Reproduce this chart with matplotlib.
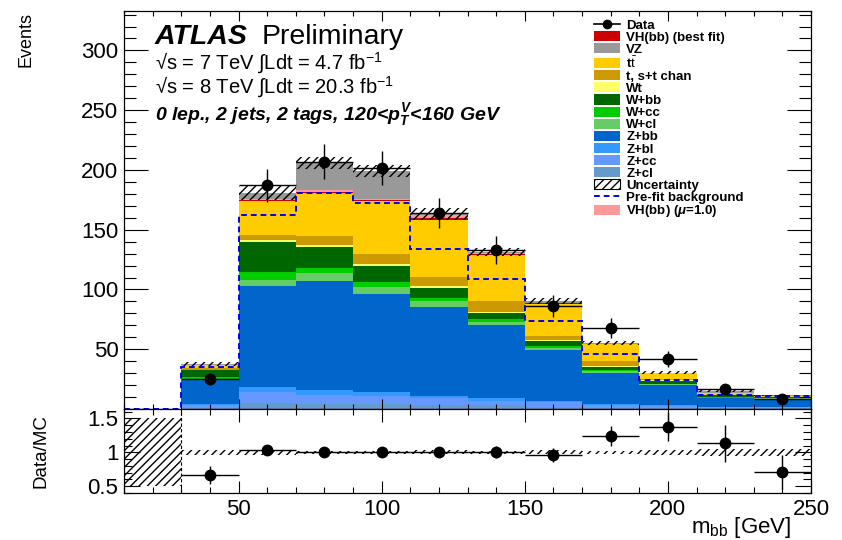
import numpy as np
import matplotlib
matplotlib.use("Agg")
import matplotlib.pyplot as plt
from matplotlib.patches import Patch
from matplotlib.lines import Line2D
from matplotlib.ticker import MultipleLocator, FixedLocator, FuncFormatter

plt.rcParams['font.family'] = ['Liberation Sans', 'DejaVu Sans']
plt.rcParams['mathtext.fontset'] = 'custom'
plt.rcParams['mathtext.rm'] = 'Liberation Sans'
plt.rcParams['mathtext.it'] = 'Liberation Sans:italic:bold'
plt.rcParams['mathtext.bf'] = 'Liberation Sans:bold'
plt.rcParams['hatch.linewidth'] = 1.0
plt.rcParams['hatch.color'] = 'black'

# ---------------- data (bins of m_bb, 20 GeV wide, first bin 10-30 empty) ----
edges = np.arange(10, 251, 20)
z_cl    = [0, 1.0, 5, 4, 4, 3, 3, 2.0, 1, 1.0, 0.5, 0.5]
z_cc    = [0, 2.0, 9, 8, 7, 6, 4, 3.5, 2, 1.5, 1.0, 1.0]
z_bl    = [0, 1.0, 4, 4, 3, 2, 2, 1.5, 1, 0.5, 0.5, 0.5]
z_bb    = [0, 20, 85, 91, 82, 74, 61, 42.5, 26.5, 17, 7, 6.5]
w_cl    = [0, 1.5, 5, 7, 6, 5, 3, 1.5, 1, 0.5, 0.5, 0.3]
w_cc    = [0, 1.0, 7, 4, 4, 2.5, 2, 1.5, 1, 0.5, 0.3, 0.2]
w_bb    = [0, 6, 25, 17.5, 13.5, 8.5, 5, 4, 3, 2.5, 1.5, 0.8]
wt      = [0, 0.5, 1, 2, 2, 1.5, 1.5, 1, 0.5, 0.5, 0.2, 0.2]
t_st    = [0, 1.5, 5, 7, 8, 8, 8.5, 3.5, 4, 1.5, 0.5, 0.3]
ttbar   = [0, 2.5, 28, 36.5, 44.5, 47.5, 38.5, 27, 14, 4.5, 1.5, 0.8]
vh_best = [0, 0, 0.5, 0.5, 0.5, 1.5, 1, 0.5, 0.2, 0, 0, 0]
vh_mu1  = [0, 0, 1, 1.5, 1, 2.5, 1, 0.5, 0.3, 0, 0, 0]
vz      = [0, 0.5, 5, 23, 24, 1, 1, 1, 0.5, 0.5, 1.5, 0.2]
uncert  = [0, 1.5, 6, 5, 5, 5, 3.5, 2.5, 1.5, 1.2, 0.8, 0.6]
prefit  = [0, 35, 162, 181, 172, 133.5, 109, 74, 46, 24.5, 12, 11]
data    = [np.nan, 25, 187, 207, 202, 164, 133, 86, 68, 42, 17, 8]
empty_bin_ratio_unc = 0.5

labels = ["Data", "VH(bb) (best fit)", "VZ", r"t$\bar{\rm t}$", "t, s+t chan", "Wt",
          "W+bb", "W+cc", "W+cl", "Z+bb", "Z+bl", "Z+cc", "Z+cl",
          "Uncertainty", "Pre-fit background", r"VH(bb) ($\mu$=1.0)"]

colors = {
    'z_cl': '#6699cc', 'z_cc': '#6699ff', 'z_bl': '#3399ff', 'z_bb': '#0066cc',
    'w_cl': '#66cc66', 'w_cc': '#00cc00', 'w_bb': '#006600', 'wt': '#ffff66',
    't_st': '#cc9900', 'ttbar': '#ffcc00', 'vh_best': '#cc0000',
    'vh_mu1': '#ff9999', 'vz': '#999999'}

stack = [('z_cl', z_cl), ('z_cc', z_cc), ('z_bl', z_bl), ('z_bb', z_bb),
         ('w_cl', w_cl), ('w_cc', w_cc), ('w_bb', w_bb), ('wt', wt),
         ('t_st', t_st), ('ttbar', ttbar), ('vh_best', vh_best),
         ('vh_mu1', vh_mu1), ('vz', vz)]

# ---------------- figure ----------------
W, H = 842, 540
fig = plt.figure(figsize=(W / 100, H / 100), dpi=100)
L, R = 124, 811
ax = fig.add_axes([L / W, 1 - 409 / H, (R - L) / W, (409 - 11) / H])
axr = fig.add_axes([L / W, 1 - 493 / H, (R - L) / W, (493 - 409) / H])

centers = 0.5 * (edges[:-1] + edges[1:])
halfw = 0.5 * np.diff(edges)

base = np.zeros(len(centers))
for key, vals in stack:
    top = base + np.asarray(vals, float)
    ax.stairs(top, edges, baseline=base, fill=True, color=colors[key], lw=0)
    base = top
total = base
unc = np.asarray(uncert, float)

ax.stairs(total + unc, edges, baseline=total - unc, fill=True,
          facecolor='none', edgecolor='black', hatch='////', lw=0)
ax.stairs(prefit, edges, baseline=None, color='#0000ff', ls=(0, (3, 2)), lw=1.4)

d = np.asarray(data, float)
ok = ~np.isnan(d)
ax.errorbar(centers[ok], d[ok], yerr=np.sqrt(d[ok]), xerr=halfw[ok], fmt='o',
            color='black', ms=7.5, elinewidth=1.0, capsize=0, zorder=5)

ax.set_xlim(edges[0], edges[-1])
ax.set_ylim(0, 333)

# ratio
with np.errstate(divide='ignore', invalid='ignore'):
    runc = np.where(total > 0, unc / total, empty_bin_ratio_unc)
axr.stairs(1 + runc, edges, baseline=1 - runc, fill=True, facecolor='none',
           edgecolor='black', hatch='////', lw=0)
axr.axvline(edges[1], color='black', ls=(0, (3, 2)), lw=0.8)
ratio = d[ok] / total[ok]
rerr = np.sqrt(d[ok]) / total[ok]
axr.errorbar(centers[ok], ratio, yerr=rerr, xerr=halfw[ok], fmt='o',
             color='black', ms=7.5, elinewidth=1.0, capsize=0, zorder=5)
axr.set_xlim(edges[0], edges[-1])
axr.set_ylim(0.40, 1.64)

# ticks
for a in (ax, axr):
    a.xaxis.set_major_locator(MultipleLocator(50))
    a.xaxis.set_minor_locator(MultipleLocator(10))
    for s in a.spines.values():
        s.set_linewidth(0.9)
ax.yaxis.set_major_locator(MultipleLocator(50))
ax.yaxis.set_minor_locator(MultipleLocator(10))
ax.tick_params(axis='x', which='both', direction='in', top=True, bottom=True,
               labelbottom=False, width=0.8)
ax.tick_params(axis='x', which='major', length=7)
ax.tick_params(axis='x', which='minor', length=3.6)
ax.tick_params(axis='y', which='both', direction='in', left=True, right=True,
               width=0.8, labelsize=16, pad=4)
ax.tick_params(axis='y', which='major', length=17)
ax.tick_params(axis='y', which='minor', length=8.6)
ax.yaxis.set_major_formatter(FuncFormatter(lambda v, p: '' if v == 0 else '%d' % v))

axr.yaxis.set_major_locator(FixedLocator([0.5, 1.0, 1.5]))
axr.yaxis.set_minor_locator(MultipleLocator(0.1))
axr.yaxis.set_major_formatter(FuncFormatter(lambda v, p: '%g' % v))
axr.tick_params(axis='x', which='both', direction='in', top=True, bottom=True,
                width=0.8, labelsize=16, pad=4)
axr.tick_params(axis='x', which='major', length=9)
axr.tick_params(axis='x', which='minor', length=4)
axr.tick_params(axis='y', which='both', direction='in', left=True, right=True,
                width=0.8, labelsize=16, pad=4)
axr.tick_params(axis='y', which='major', length=11.5)
axr.tick_params(axis='y', which='minor', length=5.8)

# legend
handles = [Line2D([], [], color='black', marker='o', ms=6, lw=1.2)]
for key in ['vh_best', 'vz', 'ttbar', 't_st', 'wt', 'w_bb', 'w_cc', 'w_cl',
            'z_bb', 'z_bl', 'z_cc', 'z_cl']:
    handles.append(Patch(facecolor=colors[key], edgecolor='none'))
handles.append(Patch(facecolor='white', edgecolor='black', hatch='////', lw=0.8))
handles.append(Line2D([], [], color='#0000ff', ls=(0, (3, 2)), lw=1.4))
handles.append(Patch(facecolor=colors['vh_mu1'], edgecolor='none'))
ax.legend(handles, labels, loc='upper left',
          bbox_to_anchor=((594 - L) / (R - L), 1 - (19 - 11) / 398),
          frameon=False, prop=dict(family='Liberation Sans', weight='bold', size=9.5),
          handlelength=2.0, handleheight=0.8, handletextpad=0.45,
          labelspacing=-0.04, borderpad=0, borderaxespad=0)

# texts
fx = lambda x: x / W
fy = lambda y: 1 - y / H
fig.text(fx(155), fy(37), "ATLAS", fontsize=20.5, fontweight='bold', fontstyle='italic',
         va='center', ha='left')
fig.text(fx(262), fy(37), "Preliminary", fontsize=20.5, va='center', ha='left')
fig.text(fx(155), fy(63), "\u221as = 7 TeV \u222bLdt = 4.7 fb$^{-1}$", fontsize=14.5,
         va='center', ha='left')
fig.text(fx(155), fy(87.5), "\u221as = 8 TeV \u222bLdt = 20.3 fb$^{-1}$", fontsize=14.5,
         va='center', ha='left')
fig.text(fx(155), fy(114.5), "0 lep., 2 jets, 2 tags, 120<$p_{T}^{V}$<160 GeV",
         fontsize=14, fontweight='bold', fontstyle='italic', va='center', ha='left')
fig.text(fx(26), fy(12), "Events", rotation=90, fontsize=13, ha='center', va='top')
fig.text(fx(41), fy(451), "Data/MC", rotation=90, fontsize=13.5, ha='center', va='center')
fig.text(fx(791), fy(533), r"m$_{\rm bb}$ [GeV]", fontsize=16, ha='right', va='baseline')

fig.savefig("out.png", dpi=100)
